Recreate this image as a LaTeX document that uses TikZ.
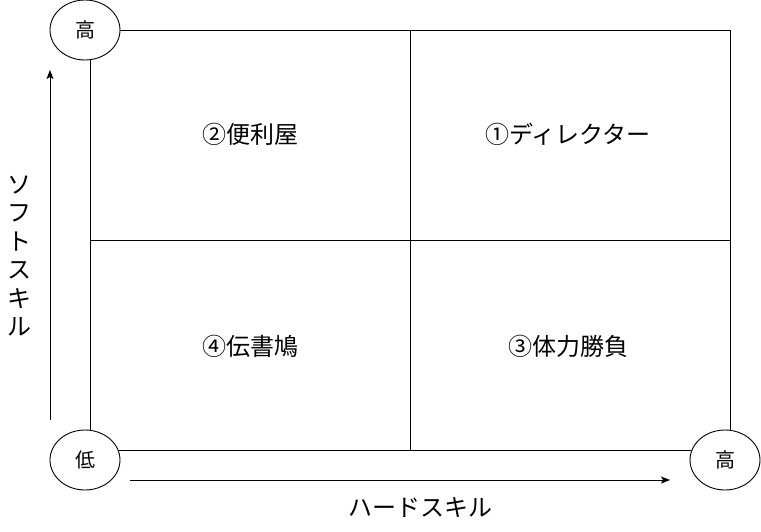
\documentclass[tikz,border=0pt]{standalone}
\usepackage{fontspec}
\newfontfamily\jp{Noto Sans CJK JP}
\usetikzlibrary{arrows.meta,shapes.geometric}
\begin{document}
\begin{tikzpicture}[x=1pt,y=-1pt,
  lvl/.style={draw,ellipse,line width=0.9pt,minimum width=70pt,minimum height=60pt,inner sep=0pt,font=\jp\fontsize{20}{20}\selectfont},
  grid/.style={line width=0.9pt},
  axis/.style={line width=0.9pt,-{Stealth[length=9pt,width=7pt,inset=2pt]}},
  quad/.style={font=\jp\fontsize{24}{24}\selectfont,inner sep=0pt},
  axlabel/.style={font=\jp\fontsize{24}{24}\selectfont,inner sep=0pt}]
\useasboundingbox (0,0) rectangle (761,531);
\node[lvl] (hi) at (85,30) {高};
\node[lvl] (lo) at (85,460) {低};
\node[lvl] (hr) at (725,460) {高};
\coordinate (tl) at (90,30);
\coordinate (tr) at (730,30);
\coordinate (bl) at (90,450);
\coordinate (br) at (730,450);
\coordinate (tm) at (410,30);
\coordinate (bm) at (410,450);
\coordinate (ml) at (90,240);
\coordinate (mr) at (730,240);
\coordinate (leftend) at (90,59.6);
\coordinate (lowtop) at (90,430.4);
\coordinate (lowright) at (118.6,450);
\coordinate (hrleft) at (691.4,450);
\coordinate (hrtop) at (730,430.4);
\draw[grid] (hi.east) -- (tr);
\draw[grid] (tr) -- (hrtop);
\draw[grid] (lowright) -- (hrleft);
\draw[grid] (leftend) -- (lowtop);
\draw[grid] (tm) -- (bm);
\draw[grid] (ml) -- (mr);
\coordinate (va) at (50,420);
\coordinate (vb) at (50,70);
\coordinate (ha) at (130,480);
\coordinate (hb) at (670,480);
\draw[axis] (va) -- (vb);
\draw[axis] (ha) -- (hb);
\node[quad] (q2) at (250,134) {②便利屋};
\node[quad] (q1) at (568,134) {①ディレクター};
\node[quad] (q4) at (250,346) {④伝書鳩};
\node[quad] (q3) at (568,346) {③体力勝負};
\node[axlabel] (hl) at (420,508) {ハードスキル};
\node[axlabel,align=center] (vl) at (19,256) {ソ\\[4.5pt]フ\\[4.5pt]ト\\[4.5pt]ス\\[4.5pt]キ\\[4.5pt]ル};
\end{tikzpicture}
\end{document}
